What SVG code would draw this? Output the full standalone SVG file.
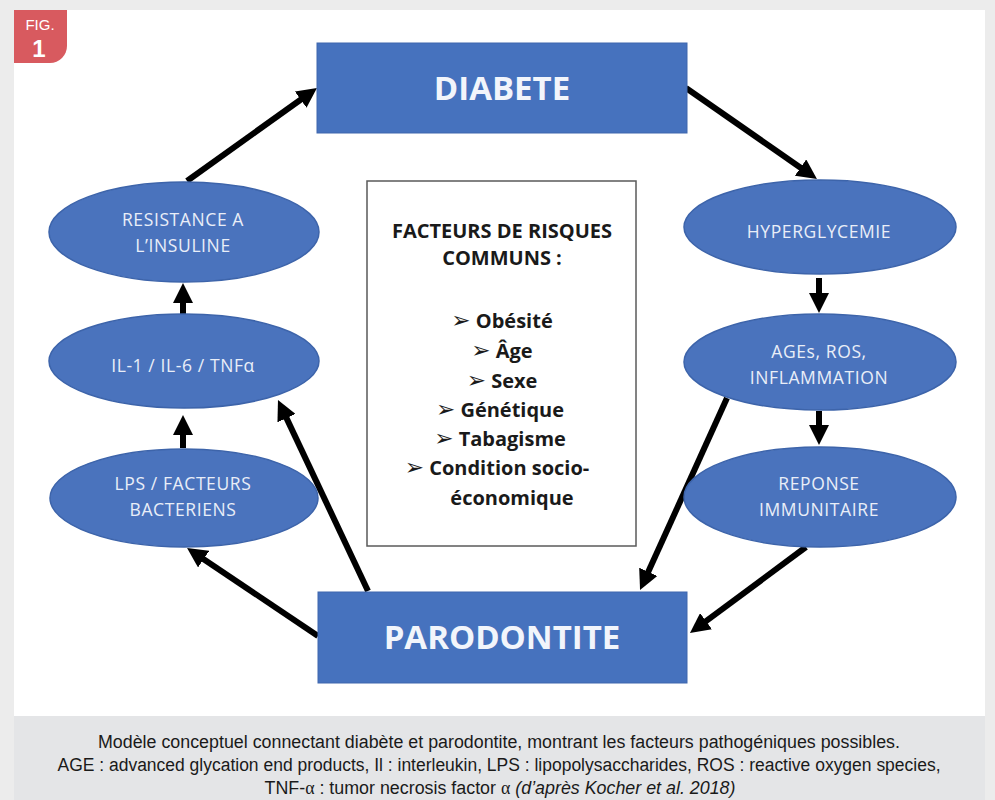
<svg xmlns="http://www.w3.org/2000/svg" width="995" height="800" viewBox="0 0 995 800">
<defs>
<style>
.box{fill:#4672be;stroke:#3f67ad;stroke-width:1}
.ell{fill:#4a73bd;stroke:#3d64aa;stroke-width:1.5}
.big{font-family:"Open Sans","Noto Sans",sans-serif;font-weight:bold;font-size:33px;fill:#f2f5fb;text-anchor:middle}
.lbl{font-family:"Open Sans","Noto Sans",sans-serif;font-size:17.5px;letter-spacing:0.6px;fill:#e9eef8;text-anchor:middle}
.risk{font-family:"Open Sans","Noto Sans",sans-serif;font-weight:bold;font-size:20px;fill:#1a1a1a;text-anchor:middle}
.bul{font-family:"DejaVu Sans",sans-serif;font-size:23px}
.cap{font-family:"Liberation Sans Narrow","Liberation Sans",sans-serif;font-size:18px;fill:#1a1a1a;text-anchor:middle}
.arr{stroke:#000;stroke-width:6;fill:none;marker-end:url(#ah)}
</style>
<marker id="ah" viewBox="0 0 20 20" refX="8" refY="10" markerWidth="20" markerHeight="20" markerUnits="userSpaceOnUse" orient="auto">
<path d="M0,0 L20,10 L0,20 z" fill="#000"/>
</marker>
</defs>
<rect x="0" y="0" width="995" height="800" fill="#ececec"/>
<rect x="14" y="10" width="971" height="706" fill="#ffffff"/>
<rect x="14" y="716" width="971" height="84" fill="#e4e5e7"/>
<g id="fig-badge">
<path d="M14,10 H67 V46 A17,17 0 0 1 50,63 H14 Z" fill="#d85a5f"/>
<text x="40" y="30" font-family="Liberation Sans Narrow,Liberation Sans,sans-serif" font-size="15" fill="#fff" text-anchor="middle">FIG.</text>
<text x="39" y="57" font-family="Liberation Sans,sans-serif" font-weight="bold" font-size="24" fill="#fff" text-anchor="middle">1</text>
</g>
<g id="connectors">
<line class="arr" x1="187" y1="181" x2="307.2" y2="95"/>
<line class="arr" x1="686" y1="88" x2="807.1" y2="172.2"/>
<line class="arr" x1="819" y1="278" x2="819" y2="301"/>
<line class="arr" x1="819" y1="411" x2="819" y2="433"/>
<line class="arr" x1="806" y1="547" x2="699.6" y2="625.9"/>
<line class="arr" x1="727" y1="398" x2="645" y2="579.1"/>
<line class="arr" x1="368" y1="591" x2="283.1" y2="410.9"/>
<line class="arr" x1="318" y1="636" x2="197" y2="554.7"/>
<line class="arr" x1="183" y1="448" x2="183" y2="427"/>
<line class="arr" x1="183" y1="314" x2="183" y2="295"/>
</g>
<g id="diabete">
<rect class="box" x="317" y="43" width="370" height="90"/>
<text class="big" x="502" y="100">DIABETE</text>
</g>
<g id="parodontite">
<rect class="box" x="318" y="592" width="369" height="91"/>
<text class="big" x="502" y="649">PARODONTITE</text>
</g>
<g id="facteurs">
<rect x="367" y="181" width="269" height="365" fill="#fff" stroke="#5a5a5a" stroke-width="1.5"/>
<text class="risk" x="502" y="238">FACTEURS DE RISQUES</text>
<text class="risk" x="502" y="265">COMMUNS :</text>
<text class="risk" x="502" y="328"><tspan class="bul">➢</tspan>  Obésité</text>
<text class="risk" x="502" y="358"><tspan class="bul">➢</tspan>  Âge</text>
<text class="risk" x="502" y="388"><tspan class="bul">➢</tspan>  Sexe</text>
<text class="risk" x="500" y="417"><tspan class="bul">➢</tspan>  Génétique</text>
<text class="risk" x="500" y="446"><tspan class="bul">➢</tspan>  Tabagisme</text>
<text class="risk" x="497" y="475"><tspan class="bul">➢</tspan>  Condition socio-</text>
<text class="risk" x="512" y="505">économique</text>
</g>
<g id="resistance">
<ellipse class="ell" cx="184" cy="232" rx="135" ry="50"/>
<text class="lbl" x="183" y="226">RESISTANCE A</text>
<text class="lbl" x="183" y="252">L’INSULINE</text>
</g>
<g id="interleukines">
<ellipse class="ell" cx="184" cy="361" rx="135" ry="47"/>
<text class="lbl" x="183" y="372">IL-1 / IL-6 / TNFα</text>
</g>
<g id="lps">
<ellipse class="ell" cx="184" cy="498" rx="134" ry="49"/>
<text class="lbl" x="183" y="490">LPS / FACTEURS</text>
<text class="lbl" x="183" y="516">BACTERIENS</text>
</g>
<g id="hyperglycemie">
<ellipse class="ell" cx="820" cy="227" rx="136" ry="47"/>
<text class="lbl" x="819" y="238">HYPERGLYCEMIE</text>
</g>
<g id="ages">
<ellipse class="ell" cx="820" cy="362" rx="136" ry="48"/>
<text class="lbl" x="819" y="358">AGEs, ROS,</text>
<text class="lbl" x="819" y="384">INFLAMMATION</text>
</g>
<g id="reponse">
<ellipse class="ell" cx="820" cy="497" rx="136" ry="50"/>
<text class="lbl" x="819" y="490">REPONSE</text>
<text class="lbl" x="819" y="516">IMMUNITAIRE</text>
</g>
<g id="caption">
<text class="cap" x="499" y="748" textLength="802" lengthAdjust="spacingAndGlyphs">Modèle conceptuel connectant diabète et parodontite, montrant les facteurs pathogéniques possibles.</text>
<text class="cap" x="499" y="771" textLength="883" lengthAdjust="spacingAndGlyphs">AGE : advanced glycation end products, Il : interleukin, LPS : lipopolysaccharides, ROS : reactive oxygen species,</text>
<text class="cap" x="500" y="794" textLength="471" lengthAdjust="spacingAndGlyphs">TNF-<tspan font-family="Liberation Serif,serif">α</tspan> : tumor necrosis factor <tspan font-family="Liberation Serif,serif">α</tspan> <tspan font-style="italic">(d’après Kocher et al. 2018)</tspan></text>
</g>
</svg>
